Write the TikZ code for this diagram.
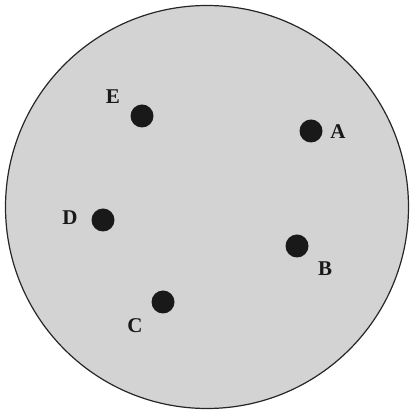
\documentclass[tikz,border=0pt]{standalone}
\usepackage{fontspec}
\setmainfont{Liberation Serif}
\definecolor{diskgray}{RGB}{211,211,211}
\definecolor{dotblack}{RGB}{25,25,25}
\tikzset{
  pt/.style={circle,fill=dotblack,inner sep=0pt,minimum size=23pt},
  lbl/.style={font=\fontsize{21}{21}\selectfont\bfseries,text=dotblack,inner sep=0pt}
}
\begin{document}
\begin{tikzpicture}[x=1pt,y=1pt]
\useasboundingbox (0,0) rectangle (410,411);
\node[circle,draw=black!85,line width=1.2pt,fill=diskgray,minimum size=403pt,inner sep=0pt] (disk) at (207,204) {};
\node[pt] (e) at (142,295) {};
\node[pt] (a) at (311,280) {};
\node[pt] (d) at (103,191) {};
\node[pt] (b) at (297,165) {};
\node[pt] (c) at (163,109) {};
\node[lbl] (le) at (113,314) {E};
\node[lbl] (la) at (338,279) {A};
\node[lbl] (ld) at (70,193) {D};
\node[lbl] (lb) at (325,142) {B};
\node[lbl] (lc) at (135,85) {C};
\end{tikzpicture}
\end{document}
